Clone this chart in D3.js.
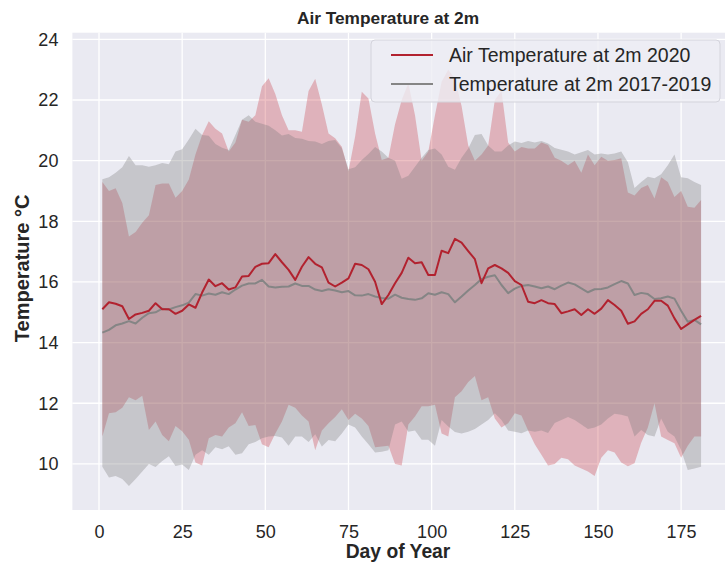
<!doctype html>
<html lang="en">
<head>
  <meta charset="utf-8">
  <title>Air Temperature at 2m</title>
  <script src="https://cdn.jsdelivr.net/npm/d3@7"></script>
  <style>
    body{margin:0;background:#fff}
    text{font-family:"Liberation Sans",Arial,sans-serif;fill:#262626}
  </style>
</head>
<body>
  <div id="container"></div>
<script>
// day of year (every second day)
var days = [1,3,5,7,9,11,13,15,17,19,21,23,25,27,29,31,33,35,37,39,41,43,45,47,49,51,53,55,57,59,
  61,63,65,67,69,71,73,75,77,79,81,83,85,87,89,91,93,95,97,99,101,103,105,107,109,111,113,115,117,119,
  121,123,125,127,129,131,133,135,137,139,141,143,145,147,149,151,153,155,157,159,161,163,165,167,169,171,173,175,177,179,181];

// 2020: mean, max, min
var mean2020 = [15.1,15.33,15.28,15.2,14.78,14.93,14.98,15.05,15.3,15.1,
  15.1,14.95,15.05,15.26,15.15,15.65,16.08,15.86,15.96,15.75,
  15.82,16.18,16.2,16.5,16.6,16.62,16.92,16.65,16.4,16.07,
  16.5,16.82,16.6,16.48,15.98,15.85,15.98,16.12,16.6,16.56,
  16.42,16.01,15.27,15.57,15.96,16.3,16.8,16.62,16.65,16.23,
  16.23,17.03,16.95,17.42,17.3,17.02,16.75,15.96,16.45,16.56,
  16.45,16.3,16.03,15.9,15.35,15.3,15.4,15.3,15.27,14.97,
  15.03,15.1,14.91,15.1,14.95,15.12,15.4,15.24,15.05,14.62,
  14.7,14.95,15.1,15.38,15.38,15.22,14.8,14.45,14.6,14.75,
  14.88];
var max2020 = [19.3,19.0,19.09,18.6,17.5,17.65,17.95,18.2,19.2,19.25,
  19.25,18.78,19.0,19.38,20.2,20.85,21.3,21.05,20.9,20.3,
  20.6,21.35,21.28,21.5,22.45,22.72,22.2,21.5,21.0,21.0,
  20.95,22.3,22.7,21.85,20.9,20.74,20.46,19.65,20.8,22.27,
  22.05,20.9,20.02,20.1,21.2,22.0,22.55,21.5,20.0,20.3,
  21.5,22.6,23.0,22.7,21.8,20.5,20.0,20.2,20.5,22.0,
  22.3,20.6,20.3,20.45,20.4,20.4,20.6,20.52,20.1,20.0,
  19.85,20.0,19.6,20.2,19.85,20.13,20.0,20.02,20.08,18.95,
  18.85,19.1,19.2,18.75,19.45,19.3,18.8,19.0,18.48,18.45,
  18.7];
var min2020 = [10.9,11.67,11.7,11.85,12.2,12.1,12.25,11.12,11.4,10.95,
  10.75,11.25,11.08,10.8,10.05,9.95,10.85,10.95,10.9,11.2,
  11.34,11.7,11.25,11.28,10.65,10.55,11.0,11.4,11.95,11.85,
  11.6,11.4,10.45,11.1,11.34,11.55,11.8,11.45,11.65,11.5,
  11.25,10.55,10.57,10.6,10.0,9.95,11.3,11.56,11.9,11.9,
  11.95,11.0,10.9,12.2,12.4,12.7,12.9,12.1,12.2,11.5,
  11.2,11.34,11.67,11.6,11.1,10.65,10.3,9.95,10.0,10.2,
  10.15,9.95,9.85,9.75,9.6,10.2,10.45,10.38,10.05,9.92,
  10.02,10.7,11.2,12.0,10.9,10.79,10.68,10.2,10.6,10.9,
  10.9];

// 2017-2019: mean, max, min
var mean1719 = [14.33,14.42,14.57,14.63,14.71,14.63,14.82,14.97,15.0,15.12,
  15.09,15.17,15.23,15.32,15.6,15.55,15.62,15.58,15.66,15.6,
  15.75,15.88,15.95,15.95,16.07,15.85,15.82,15.84,15.85,15.95,
  15.87,15.87,15.75,15.7,15.76,15.72,15.66,15.7,15.56,15.55,
  15.6,15.52,15.47,15.45,15.58,15.48,15.44,15.41,15.46,15.63,
  15.58,15.66,15.6,15.33,15.52,15.72,15.9,16.1,16.17,16.22,
  15.9,15.63,15.78,15.87,15.9,15.85,15.79,15.85,15.76,15.88,
  15.98,15.92,15.79,15.66,15.76,15.77,15.82,15.93,16.03,15.95,
  15.57,15.64,15.6,15.44,15.46,15.52,15.45,15.05,14.69,14.75,
  14.6];
var max1719 = [19.39,19.45,19.6,19.78,20.15,19.85,19.85,19.8,19.85,19.92,
  19.88,20.3,20.38,20.7,21.05,20.85,20.82,20.55,20.43,20.35,
  20.85,21.35,21.5,21.28,21.22,21.15,21.0,20.83,20.88,20.75,
  20.72,20.65,20.63,20.55,20.65,20.68,20.41,19.72,19.78,20.02,
  20.22,20.45,20.3,20.1,20.0,19.4,19.5,19.8,20.1,20.35,
  20.4,20.2,19.8,19.7,20.1,20.4,20.85,20.88,20.5,20.3,
  20.3,20.5,20.63,20.58,20.65,20.6,20.65,20.57,20.42,20.36,
  20.3,20.2,20.28,20.35,20.2,20.24,20.2,20.24,20.3,19.95,
  19.1,19.3,19.47,19.42,19.55,19.85,20.2,19.45,19.42,19.3,
  19.2];
var min1719 = [9.91,9.55,9.6,9.5,9.27,9.5,9.75,10.0,9.9,10.1,
  10.25,9.93,9.98,9.8,10.3,10.45,10.3,10.55,10.48,10.58,
  10.3,10.35,10.65,10.72,10.85,10.9,10.92,10.87,10.6,10.9,
  10.9,10.72,10.98,10.57,10.79,10.75,11.0,11.3,11.2,10.9,
  10.65,10.38,10.4,10.45,11.3,11.4,11.06,11.1,10.8,10.8,
  10.6,11.45,11.23,11.05,11.0,11.06,11.15,11.3,11.45,11.67,
  11.45,11.1,11.06,11.01,11.1,11.06,11.1,11.02,11.35,11.45,
  11.55,11.45,11.3,11.15,11.2,11.3,11.5,11.65,11.62,11.56,
  10.9,11.12,10.95,10.9,11.5,11.06,10.9,10.46,9.8,9.85,
  9.91];

var xTicks = [0, 25, 50, 75, 100, 125, 150, 175];
var yTicks = [10, 12, 14, 16, 18, 20, 22, 24];
var legendLabels = ["Air Temperature at 2m 2020", "Temperature at 2m 2017-2019"];

var W = 725, H = 564,
    plotL = 72.4, plotR = 731, plotT = 32.7, plotB = 510;

var svg = d3.select("#container").append("svg")
    .attr("width", W).attr("height", H).attr("viewBox", "0 0 " + W + " " + H);

var x = d3.scaleLinear().domain([-8, 190]).range([plotL, plotR]),
    y = d3.scaleLinear().domain([8.48, 24.22]).range([plotB, plotT]);

svg.append("rect").attr("x", plotL).attr("y", plotT)
    .attr("width", plotR - plotL).attr("height", plotB - plotT).attr("fill", "#eaeaf2");

svg.append("clipPath").attr("id", "plot-clip").append("rect")
    .attr("x", plotL).attr("y", plotT).attr("width", plotR - plotL).attr("height", plotB - plotT);

// grid
var grid = svg.append("g").attr("class", "grid");
grid.selectAll("line.gx").data(xTicks).enter().append("line")
    .attr("x1", function (d) { return x(d); }).attr("x2", function (d) { return x(d); })
    .attr("y1", plotT).attr("y2", plotB)
    .attr("stroke", "#fff").attr("stroke-width", 1.3);
grid.selectAll("line.gy").data(yTicks).enter().append("line")
    .attr("x1", plotL).attr("x2", plotR)
    .attr("y1", function (d) { return y(d); }).attr("y2", function (d) { return y(d); })
    .attr("stroke", "#fff").attr("stroke-width", 1.3);

var rows = days.map(function (d, i) {
  return {day: d, m20: mean2020[i], hi20: max2020[i], lo20: min2020[i],
          m17: mean1719[i], hi17: max1719[i], lo17: min1719[i]};
});

var plot = svg.append("g").attr("clip-path", "url(#plot-clip)");

var area20 = d3.area().x(function (d) { return x(d.day); })
    .y0(function (d) { return y(d.lo20); }).y1(function (d) { return y(d.hi20); });
var area17 = d3.area().x(function (d) { return x(d.day); })
    .y0(function (d) { return y(d.lo17); }).y1(function (d) { return y(d.hi17); });
var line20 = d3.line().x(function (d) { return x(d.day); }).y(function (d) { return y(d.m20); });
var line17 = d3.line().x(function (d) { return x(d.day); }).y(function (d) { return y(d.m17); });

plot.append("path").datum(rows).attr("d", area20).attr("fill", "#c8323c").attr("fill-opacity", 0.3);
plot.append("path").datum(rows).attr("d", area17).attr("fill", "#7a7a7a").attr("fill-opacity", 0.32);
plot.append("path").datum(rows).attr("d", line17).attr("fill", "none")
    .attr("stroke", "#858585").attr("stroke-width", 2).attr("stroke-linejoin", "round");
plot.append("path").datum(rows).attr("d", line20).attr("fill", "none")
    .attr("stroke", "#b2222f").attr("stroke-width", 2).attr("stroke-linejoin", "round");

// axes
var xAxis = svg.append("g").attr("transform", "translate(0," + plotB + ")")
    .call(d3.axisBottom(x).tickValues(xTicks).tickSize(0).tickPadding(15));
var yAxis = svg.append("g").attr("transform", "translate(" + plotL + ",0)")
    .call(d3.axisLeft(y).tickValues(yTicks).tickSize(0).tickPadding(14));
[xAxis, yAxis].forEach(function (a) {
  a.select(".domain").remove();
  a.selectAll("text").attr("font-size", 18).attr("fill", "#262626")
      .style("font-family", "'Liberation Sans', Arial, sans-serif");
});

svg.append("text").attr("x", 388).attr("y", 23.5)
    .attr("text-anchor", "middle").attr("font-size", 17.3).attr("font-weight", "bold")
    .text("Air Temperature at 2m");
svg.append("text").attr("x", 398).attr("y", 558)
    .attr("text-anchor", "middle").attr("font-size", 19.3).attr("font-weight", "bold")
    .text("Day of Year");
svg.append("text").attr("transform", "translate(29," + ((plotT + plotB) / 2 - 3) + ") rotate(-90)")
    .attr("text-anchor", "middle").attr("font-size", 20).attr("font-weight", "bold")
    .text("Temperature \u00b0C");

// legend
var legend = svg.append("g").attr("transform", "translate(371,40)");
legend.append("rect").attr("width", 349).attr("height", 62).attr("rx", 4)
    .attr("fill", "#eeeef4").attr("fill-opacity", 0.8).attr("stroke", "#d4d4dc");
var legendColors = ["#b2222f", "#858585"];
legend.selectAll("g.item").data(legendLabels).enter().append("g")
    .attr("transform", function (d, i) { return "translate(0," + (15 + i * 29) + ")"; })
    .each(function (d, i) {
      var g = d3.select(this);
      g.append("line").attr("x1", 20).attr("x2", 62).attr("y1", 0).attr("y2", 0)
          .attr("stroke", legendColors[i]).attr("stroke-width", 2);
      g.append("text").attr("x", 78).attr("y", 7).attr("font-size", 19.5).text(d);
    });
</script>
</body>
</html>
